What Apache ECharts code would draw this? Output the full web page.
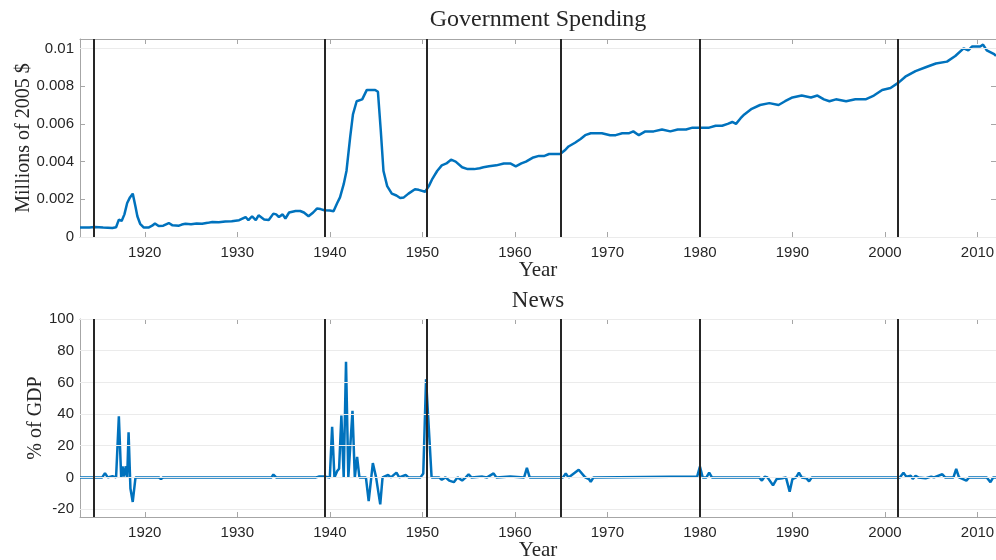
<!DOCTYPE html>
<html>
<head>
<meta charset="utf-8">
<title>Government Spending / News</title>
<script src="https://cdn.jsdelivr.net/npm/echarts@6/dist/echarts.min.js"></script>
<style>
  html, body { margin: 0; padding: 0; background: #fff; }
  #main { width: 996px; height: 560px; }
</style>
</head>
<body>
<div id="main"></div>
<script>
// top panel: government spending (millions of 2005 $)
var spendYears = [1913.0, 1914.0, 1914.6, 1915.5, 1916.5, 1916.9, 1917.2, 1917.5, 1917.8, 1918.1, 1918.4, 1918.7,
  1919.0, 1919.2, 1919.5, 1919.9, 1920.4, 1920.8, 1921.1, 1921.5, 1922.0, 1922.6, 1923.0, 1923.7, 1924.0, 1924.4,
  1925.0, 1925.6, 1926.2, 1926.8, 1927.3, 1928.0, 1928.7, 1929.4, 1930.2, 1930.9, 1931.2, 1931.6, 1932.0, 1932.3,
  1932.9, 1933.4, 1933.6, 1933.9, 1934.2, 1934.5, 1934.9, 1935.2, 1935.6, 1936.3, 1936.8, 1937.2, 1937.7, 1938.2,
  1938.6, 1939.0, 1939.4, 1940.0, 1940.4, 1940.8, 1941.1, 1941.5, 1941.8, 1942.2, 1942.5, 1942.9, 1943.5, 1944.0,
  1944.5, 1944.9, 1945.2, 1945.5, 1945.8, 1946.2, 1946.7, 1947.2, 1947.6, 1948.0, 1948.5, 1949.2, 1949.6, 1950.3,
  1950.7, 1951.1, 1951.6, 1952.1, 1952.6, 1953.1, 1953.6, 1954.3, 1954.9, 1955.6, 1956.2, 1956.6, 1957.2, 1958.0,
  1958.8, 1959.5, 1960.1, 1960.7, 1961.2, 1961.9, 1962.6, 1963.2, 1963.7, 1964.3, 1964.9, 1965.4, 1965.8, 1966.5,
  1967.1, 1967.6, 1968.2, 1969.4, 1970.3, 1970.9, 1971.6, 1972.3, 1972.8, 1973.4, 1974.1, 1975.0, 1975.9, 1976.8,
  1977.6, 1978.5, 1979.2, 1979.9, 1980.1, 1981.0, 1981.7, 1982.4, 1983.0, 1983.5, 1983.9, 1984.4, 1984.8, 1985.6,
  1986.5, 1987.5, 1988.5, 1989.2, 1990.0, 1991.0, 1992.0, 1992.7, 1993.4, 1994.0, 1994.7, 1995.8, 1996.8, 1997.9,
  1998.8, 1999.7, 2000.6, 2001.5, 2002.2, 2003.3, 2004.4, 2005.5, 2006.7, 2007.6, 2008.5, 2009.0, 2009.4, 2010.3,
  2010.6, 2011.0, 2011.8, 2012.0]
var spendVals = [0.00050, 0.00050, 0.00053, 0.00050, 0.00048, 0.00052, 0.00092, 0.00085, 0.00120, 0.00180, 0.00210, 0.00230,
  0.00160, 0.00110, 0.00070, 0.00050, 0.00050, 0.00060, 0.00072, 0.00058, 0.00060, 0.00074, 0.00062, 0.00060, 0.00066, 0.00070,
  0.00068, 0.00072, 0.00070, 0.00075, 0.00080, 0.00078, 0.00082, 0.00083, 0.00089, 0.00106, 0.00089, 0.00110, 0.00090, 0.00115,
  0.00093, 0.00090, 0.00080, 0.00124, 0.00120, 0.00106, 0.00120, 0.00098, 0.00130, 0.00138, 0.00138, 0.00130, 0.00110, 0.00130,
  0.00151, 0.00148, 0.00142, 0.00140, 0.00137, 0.00180, 0.00210, 0.00280, 0.00350, 0.00530, 0.00650, 0.00720, 0.00730, 0.00780,
  0.00780, 0.00780, 0.00770, 0.00570, 0.00350, 0.00270, 0.00230, 0.00220, 0.00207, 0.00210, 0.00230, 0.00253, 0.00250, 0.00240,
  0.00270, 0.00310, 0.00350, 0.00380, 0.00390, 0.00410, 0.00400, 0.00370, 0.00360, 0.00360, 0.00365, 0.00370, 0.00375, 0.00380,
  0.00390, 0.00390, 0.00375, 0.00390, 0.00400, 0.00420, 0.00430, 0.00430, 0.00440, 0.00440, 0.00440, 0.00460, 0.00480, 0.00500,
  0.00520, 0.00540, 0.00550, 0.00550, 0.00540, 0.00540, 0.00550, 0.00550, 0.00560, 0.00540, 0.00560, 0.00560, 0.00570, 0.00560,
  0.00570, 0.00570, 0.00580, 0.00580, 0.00590, 0.00580, 0.00590, 0.00590, 0.00600, 0.00610, 0.00600, 0.00630, 0.00650, 0.00680,
  0.00700, 0.00710, 0.00700, 0.00720, 0.00740, 0.00750, 0.00740, 0.00750, 0.00730, 0.00720, 0.00730, 0.00720, 0.00730, 0.00730,
  0.00750, 0.00780, 0.00790, 0.00820, 0.00850, 0.00880, 0.00900, 0.00920, 0.00930, 0.00960, 0.01000, 0.00990, 0.01010, 0.01010,
  0.01020, 0.00990, 0.00970, 0.00960]

// bottom panel: news (% of GDP)
var newsYears = [1913.0, 1915.4, 1915.7, 1916.0, 1916.5, 1916.9, 1917.2, 1917.45, 1917.6, 1917.75, 1917.95, 1918.1,
  1918.25, 1918.45, 1918.7, 1919.0, 1921.5, 1921.75, 1922.0, 1927.8, 1928.0, 1928.2, 1933.7, 1933.9, 1934.2, 1938.5,
  1938.8, 1939.5, 1940.0, 1940.25, 1940.5, 1940.8, 1941.0, 1941.25, 1941.5, 1941.75, 1942.0, 1942.45, 1942.7, 1942.95,
  1943.2, 1943.9, 1944.2, 1944.65, 1945.0, 1945.45, 1945.7, 1946.3, 1946.6, 1947.2, 1947.5, 1948.2, 1948.5, 1949.8,
  1950.1, 1950.4, 1951.0, 1951.8, 1952.1, 1952.5, 1952.9, 1953.1, 1953.4, 1953.8, 1954.3, 1954.7, 1955.0, 1955.3,
  1956.5, 1957.0, 1957.7, 1958.0, 1959.5, 1961.0, 1961.3, 1961.6, 1963.3, 1963.5, 1963.8, 1965.2, 1965.5, 1965.8,
  1966.9, 1967.6, 1968.0, 1968.2, 1968.5, 1979.7, 1980.0, 1980.3, 1980.7, 1981.0, 1981.3, 1986.4, 1986.7, 1987.0,
  1987.3, 1987.9, 1988.3, 1988.9, 1989.3, 1989.7, 1990.0, 1990.4, 1990.7, 1991.0, 1991.5, 1991.8, 1992.1, 2001.6,
  2002.0, 2002.3, 2002.8, 2003.0, 2003.3, 2003.6, 2004.4, 2005.0, 2005.3, 2006.2, 2006.5, 2007.4, 2007.7, 2008.0,
  2008.8, 2009.1, 2011.0, 2011.4, 2011.7, 2012.0]
var newsVals = [0, 0, 2.7, 0, 0.8, 0, 38.5, 0, 7, 0.5, 7, 0,
  28.5, -7, -15.5, 0, 0, -1, 0, 0, 0.4, 0, 0, 1.8, 0, 0,
  0.5, 0.5, 0, 32, 0, 4, 5.5, 39, 0, 73, 0, 42, 0, 13,
  0, 0, -15, 9, 0, -17, 0, 1.5, 0, 3, 0, 1.5, 0, 0,
  2.5, 62, 0, 0, -1.5, 0, -2, -1, -3, 0, -2, 0, 2, 0,
  0.5, 0, 2.5, 0, 0.5, 0, 6, 0, 0, -1, 0, 0, 2.5, 0,
  4.8, 0, -1, -2.8, 0, 0.5, 6.8, 0, 0, 3, 0, 0, -2, 0.5,
  0, -5, -1, -0.5, 0, -9, -1, 0, 3, 0, -0.5, -2.5, 0, 0,
  3, 0.5, 1, -1, 1, 0, -0.5, 0.5, 0, 2, 0, 0, 5.3, 0,
  -2, 0, 0, -3, 0, 0]

// vertical event dates
var eventYears = [1914.5, 1939.5, 1950.5, 1965.0, 1980.0, 2001.4]

// tick labels
var xTicks = [1920, 1930, 1940, 1950, 1960, 1970, 1980, 1990, 2000, 2010]
var spendTicks = [0, 0.002, 0.004, 0.006, 0.008, 0.01]
var newsTicks = [-20, 0, 20, 40, 60, 80, 100]

var serif = 'Liberation Serif'
var sans = 'Liberation Sans'
var frameColor = '#a6a6a6'
var lineBlue = '#0072BD'

var pairs = function (xs, ys) {
  return xs.map(function (x, i) { return [x, ys[i]] })
}

// one x axis (bottom with labels, or top mirror)
var makeX = function (grid, pos) {
  var ax = {
    gridIndex: grid,
    type: 'value',
    position: pos,
    min: 1913,
    max: 2012,
    axisLine: { show: true, onZero: false, lineStyle: { color: frameColor, width: 1 } },
    axisTick: { show: true, inside: true, length: 5, customValues: xTicks, lineStyle: { color: frameColor } },
    axisLabel: {
      show: pos === 'bottom',
      customValues: xTicks,
      formatter: function (v) { return String(v) }, // no thousands separator
      color: '#262626', fontSize: 15, fontFamily: sans, margin: 8
    },
    splitLine: { show: false }
  }
  if (pos === 'bottom') {
    ax.name = 'Year'
    ax.nameLocation = 'middle'
    ax.nameGap = 23
    ax.nameMoveOverlap = false
    ax.nameTextStyle = { fontFamily: serif, fontSize: 21, color: '#262626' }
  }
  return ax
}

// one y axis (left with labels, or right mirror)
var makeY = function (grid, pos, min, max, ticks, name, gap) {
  var ax = {
    gridIndex: grid,
    type: 'value',
    position: pos,
    min: min,
    max: max,
    axisLine: { show: true, onZero: false, lineStyle: { color: frameColor, width: 1 } },
    axisTick: { show: true, inside: true, length: 5, customValues: ticks, lineStyle: { color: frameColor } },
    axisLabel: { show: pos === 'left', customValues: ticks, color: '#262626', fontSize: 15, fontFamily: sans, margin: 6 },
    splitLine: { show: false }
  }
  if (pos === 'left') {
    ax.name = name
    ax.nameLocation = 'middle'
    ax.nameGap = gap
    ax.nameMoveOverlap = false // keep the name where nameGap puts it
    ax.nameTextStyle = { fontFamily: serif, fontSize: 20, color: '#262626' }
  }
  return ax
}

// grid lines + event lines drawn as markLines under the data
var markSeries = function (idx, data, color, width, z) {
  return {
    type: 'line',
    xAxisIndex: idx * 2,
    yAxisIndex: idx * 2,
    data: [],
    silent: true,
    z: z,
    markLine: {
      silent: true,
      symbol: 'none',
      animation: false,
      label: { show: false },
      lineStyle: { color: color, width: width, type: 'solid' },
      data: data
    }
  }
}

var chartDom = document.getElementById('main')
var myChart = echarts.init(chartDom)

var option = {
  animation: false,
  backgroundColor: '#fff',
  title: [
    { text: 'Government Spending', left: 538, top: 8, textAlign: 'center', padding: 0,
      textStyle: { fontFamily: serif, fontSize: 24, fontWeight: 'normal', color: '#262626' } },
    { text: 'News', left: 538, top: 289, textAlign: 'center', padding: 0,
      textStyle: { fontFamily: serif, fontSize: 23, fontWeight: 'normal', color: '#262626' } }
  ],
  grid: [
    { left: 80, right: 0, top: 39, height: 198, outerBoundsMode: 'none' },
    { left: 80, right: 0, top: 319, height: 198, outerBoundsMode: 'none' }
  ],
  xAxis: [makeX(0, 'bottom'), makeX(0, 'top'), makeX(1, 'bottom'), makeX(1, 'top')],
  yAxis: [
    makeY(0, 'left', 0, 0.0105, spendTicks, 'Millions of 2005 $', 46),
    makeY(0, 'right', 0, 0.0105, spendTicks),
    makeY(1, 'left', -25, 100, newsTicks, '% of GDP', 34),
    makeY(1, 'right', -25, 100, newsTicks)
  ],
  series: [
    markSeries(0, spendTicks.map(function (v) { return { yAxis: v } }), '#ebebeb', 1, 1),
    markSeries(1, newsTicks.map(function (v) { return { yAxis: v } }), '#ebebeb', 1, 1),
    markSeries(0, eventYears.map(function (v) { return { xAxis: v } }), '#262626', 2, 2),
    markSeries(1, eventYears.map(function (v) { return { xAxis: v } }), '#262626', 2, 2),
    {
      name: 'Government Spending',
      type: 'line',
      xAxisIndex: 0,
      yAxisIndex: 0,
      showSymbol: false,
      z: 3,
      lineStyle: { color: lineBlue, width: 2.5 },
      data: pairs(spendYears, spendVals)
    },
    {
      name: 'News',
      type: 'line',
      xAxisIndex: 2,
      yAxisIndex: 2,
      showSymbol: false,
      z: 3,
      lineStyle: { color: lineBlue, width: 2.5 },
      data: pairs(newsYears, newsVals)
    }
  ]
}
option && myChart.setOption(option)
</script>
</body>
</html>
